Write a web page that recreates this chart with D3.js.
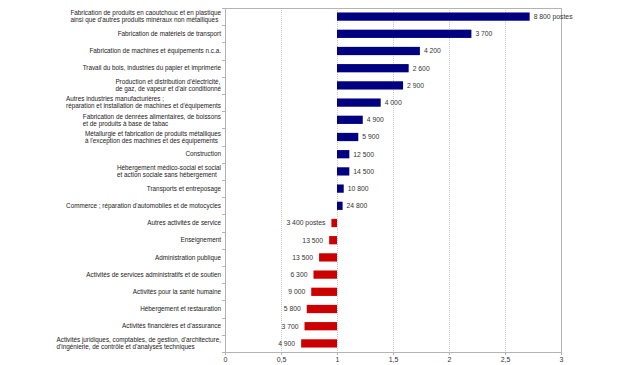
<!DOCTYPE html>
<html>
<head>
<meta charset="utf-8">
<script src="https://cdn.jsdelivr.net/npm/d3@7"></script>
<style>
  body { margin: 0; background: #fff; }
  svg { display: block; font-family: "Liberation Sans", Arial, sans-serif; }
</style>
</head>
<body>
<div class="chart"></div>
<script>
// categories, top to bottom (lines split with "\n")
const categories = [
  "Fabrication de produits en caoutchouc et en plastique\nainsi que d'autres produits minéraux non métalliques",
  "Fabrication de matériels de transport",
  "Fabrication de machines et équipements n.c.a.",
  "Travail du bois, industries du papier et imprimerie",
  "Production et distribution d'électricité,\nde gaz, de vapeur et d'air conditionné",
  "Autres industries manufacturières ;\nréparation et installation de machines et d'équipements",
  "Fabrication de denrées alimentaires, de boissons\net de produits à base de tabac",
  "Métallurgie et fabrication de produits métalliques\nà l'exception des machines et des équipements",
  "Construction",
  "Hébergement médico-social et social\net action sociale sans hébergement",
  "Transports et entreposage",
  "Commerce ; réparation d'automobiles et de motocycles",
  "Autres activités de service",
  "Enseignement",
  "Administration publique",
  "Activités de services administratifs et de soutien",
  "Activités pour la santé humaine",
  "Hébergement et restauration",
  "Activités financières et d'assurance",
  "Activités juridiques, comptables, de gestion, d'architecture,\nd'ingénierie, de contrôle et d'analyses techniques"
];

// ratio values (bars drawn from 1)
const ratios = [2.72, 2.20, 1.74, 1.64, 1.59, 1.39, 1.23, 1.19, 1.11, 1.11, 1.06, 1.05,
                0.95, 0.93, 0.84, 0.79, 0.77, 0.73, 0.71, 0.68];

// labels next to the bars
const valueLabels = ["8 800 postes", "3 700", "4 200", "2 600", "2 900", "4 000", "4 900", "5 900",
                     "12 500", "14 500", "10 800", "24 800", "3 400 postes", "13 500", "13 500",
                     "6 300", "9 000", "5 800", "3 700", "4 900"];

const xTicks = [0, 0.5, 1, 1.5, 2, 2.5, 3];

const data = categories.map(function(c, i) {
  return { cat: c, v: ratios[i], label: valueLabels[i] };
});

let width = 626;
let height = 365;
let plot = { left: 225, right: 561, top: 8, bottom: 352 };
let axisColor = '#b3b3b3';

let svg = d3.select('.chart')
  .append('svg')
  .attr('width', width)
  .attr('height', height);

let xScale = d3.scaleLinear()
  .domain([0, 3])
  .range([plot.left, plot.right]);

let yScale = d3.scaleBand()
  .domain(d3.range(categories.length))
  .range([plot.top, plot.bottom])
  .paddingInner(0.52)
  .paddingOuter(0.26);

// dotted gridlines
svg.append('g')
  .selectAll('line')
  .data(xTicks.filter(function(t) { return t > 0 && t < 3; }))
  .enter().append('line')
  .attr('x1', function(d) { return xScale(d) + 0.5; })
  .attr('x2', function(d) { return xScale(d) + 0.5; })
  .attr('y1', plot.top)
  .attr('y2', plot.bottom)
  .attr('stroke', '#c8c8c8')
  .attr('stroke-dasharray', '1,1');

// frame: top and right
svg.append('line')
  .attr('x1', plot.left - 3).attr('x2', plot.right + 0.5)
  .attr('y1', plot.top + 0.5).attr('y2', plot.top + 0.5)
  .attr('stroke', axisColor);
svg.append('line')
  .attr('x1', plot.right + 0.5).attr('x2', plot.right + 0.5)
  .attr('y1', plot.top).attr('y2', plot.bottom)
  .attr('stroke', axisColor);

// left axis with ticks at band boundaries
svg.append('line')
  .attr('x1', plot.left + 0.5).attr('x2', plot.left + 0.5)
  .attr('y1', plot.top).attr('y2', plot.bottom)
  .attr('stroke', axisColor);
svg.append('g')
  .selectAll('line')
  .data(d3.range(categories.length + 1))
  .enter().append('line')
  .attr('x1', plot.left - 3)
  .attr('x2', plot.left)
  .attr('y1', function(i) { return Math.round(plot.top + i * (plot.bottom - plot.top) / categories.length) + 0.5; })
  .attr('y2', function(i) { return Math.round(plot.top + i * (plot.bottom - plot.top) / categories.length) + 0.5; })
  .attr('stroke', axisColor);

// bottom axis
let xAxis = svg.append('g')
  .attr('transform', 'translate(0,' + plot.bottom + ')')
  .call(d3.axisBottom(xScale)
    .tickValues(xTicks)
    .tickSize(3)
    .tickPadding(2)
    .tickFormat(function(d) { return String(d).replace('.', ','); }));
xAxis.select('.domain').attr('stroke', axisColor);
xAxis.selectAll('.tick line').attr('stroke', axisColor);
xAxis.selectAll('.tick text')
  .attr('fill', '#333')
  .style('font-size', '7px')
  .style('font-family', '"Liberation Sans", Arial, sans-serif');

// bars from 1
svg.append('g')
  .selectAll('rect')
  .data(data)
  .enter().append('rect')
  .attr('x', function(d) { return xScale(Math.min(1, d.v)); })
  .attr('y', function(d, i) { return yScale(i); })
  .attr('width', function(d) { return Math.abs(xScale(d.v) - xScale(1)); })
  .attr('height', yScale.bandwidth())
  .attr('fill', function(d) { return d.v >= 1 ? '#000080' : '#cc0000'; });

// value labels
svg.append('g')
  .selectAll('text')
  .data(data)
  .enter().append('text')
  .attr('x', function(d) { return d.v >= 1 ? xScale(d.v) + 4 : xScale(d.v) - 6; })
  .attr('y', function(d, i) { return yScale(i) + yScale.bandwidth() / 2; })
  .attr('dy', '0.35em')
  .attr('text-anchor', function(d) { return d.v >= 1 ? 'start' : 'end'; })
  .attr('fill', '#333')
  .style('font-size', '6.8px')
  .text(function(d) { return d.label; });

// category labels, block right aligned, lines left aligned
let labelRight = 221;
let lineH = 7;
let catG = svg.append('g');
data.forEach(function(d, i) {
  let lines = d.cat.split('\n');
  let cy = yScale(i) + yScale.bandwidth() / 2;
  let t = catG.append('text')
    .attr('fill', '#222')
    .style('font-size', '6.35px');
  lines.forEach(function(line, k) {
    t.append('tspan')
      .attr('y', cy + (k - (lines.length - 1) / 2) * lineH)
      .attr('dy', '0.35em')
      .text(line);
  });
  let maxW = 0;
  t.selectAll('tspan').each(function() {
    maxW = Math.max(maxW, this.getComputedTextLength());
  });
  t.selectAll('tspan').attr('x', labelRight - maxW);
});
</script>
</body>
</html>
